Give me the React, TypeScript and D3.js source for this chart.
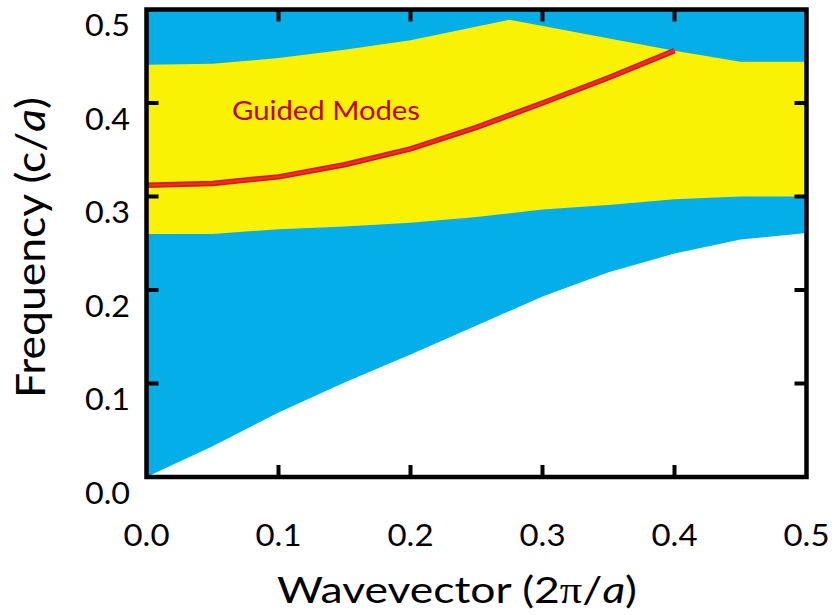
import React from "react";
import * as d3 from "d3";

// Wavevector samples (2π/a)
const kLight = [0, 0.05, 0.1, 0.15, 0.2, 0.25, 0.3, 0.35, 0.4, 0.45, 0.5];
// light line (lower edge of the blue continuum)
const lightLine = [0, 0.033, 0.069, 0.101, 0.131, 0.162, 0.193, 0.219, 0.239, 0.254, 0.261];
// lower edge of the guided-mode (yellow) band
const bandLower = [0.26, 0.26, 0.265, 0.268, 0.272, 0.278, 0.286, 0.291, 0.297, 0.3, 0.3];
// upper edge of the yellow band
const kUpper = [0, 0.05, 0.1, 0.15, 0.2, 0.275, 0.4, 0.45, 0.5];
const bandUpper = [0.441, 0.442, 0.448, 0.457, 0.467, 0.489, 0.456, 0.444, 0.444];
// guided mode (red)
const kMode = [0, 0.05, 0.1, 0.15, 0.2, 0.25, 0.3, 0.35, 0.4];
const modeFreq = [0.312, 0.314, 0.321, 0.334, 0.351, 0.374, 0.4, 0.427, 0.456];

const xTicks = [0, 0.1, 0.2, 0.3, 0.4, 0.5];
const yTicks = [0, 0.1, 0.2, 0.3, 0.4, 0.5];

const W = 838;
const H = 615;
const FONT = "Lato, 'Noto Sans', sans-serif";

export default function App() {
  const x = d3.scaleLinear().domain([0, 0.5]).range([146.5, 806.5]);
  const y = d3.scaleLinear().domain([0, 0.5]).range([477, 9.5]);

  const blueArea = d3
    .area<number>()
    .x((_, i) => x(kLight[i]))
    .y0((d) => y(d))
    .y1(() => y(0.5))(lightLine) as string;

  const bandPts: [number, number][] = [
    ...kUpper.map((k, i) => [k, bandUpper[i]] as [number, number]),
    ...kLight.map((k, i) => [k, bandLower[i]] as [number, number]).reverse(),
  ];
  const bandPath =
    (d3
      .line<[number, number]>()
      .x((d) => x(d[0]))
      .y((d) => y(d[1]))(bandPts) as string) + "Z";

  const modePath = d3
    .line<number>()
    .x((_, i) => x(kMode[i]))
    .y((d) => y(d))(modeFreq) as string;

  const [x0, x1] = x.range();
  const [yb, yt] = y.range();
  const tickLen = 12;
  const inner = [0.1, 0.2, 0.3, 0.4];

  return (
    <svg
      width={W}
      height={H}
      style={{ position: "absolute", left: 0, top: 0, background: "#fff" }}
    >
      <path d={blueArea} fill="#03aee9" />
      <path d={bandPath} fill="#faf205" />
      <path d={modePath} fill="none" stroke="#d01b1b" strokeWidth={5.5} strokeLinejoin="round" />
      <path d={modePath} fill="none" stroke="#f52a2a" strokeWidth={2.2} strokeLinejoin="round" />
      <text
        x={232}
        y={119.5}
        fill="#c00000"
        fontFamily={FONT}
        fontSize={27.5}
        textLength={188}
        lengthAdjust="spacingAndGlyphs"
      >
        Guided Modes
      </text>

      {/* ticks */}
      {inner.map((t) => (
        <g key={"xt" + t} stroke="#000" strokeWidth={4}>
          <line x1={x(t)} x2={x(t)} y1={yb} y2={yb - tickLen} />
          <line x1={x(t)} x2={x(t)} y1={yt} y2={yt + tickLen} />
        </g>
      ))}
      {inner.map((t) => (
        <g key={"yt" + t} stroke="#000" strokeWidth={4}>
          <line x1={x0} x2={x0 + tickLen} y1={y(t)} y2={y(t)} />
          <line x1={x1} x2={x1 - tickLen} y1={y(t)} y2={y(t)} />
        </g>
      ))}
      <rect
        x={x0}
        y={yt}
        width={x1 - x0}
        height={yb - yt}
        fill="none"
        stroke="#000"
        strokeWidth={4.5}
      />

      {/* tick labels */}
      {xTicks.map((t) => (
        <text
          key={"xl" + t}
          x={x(t)}
          y={546}
          textAnchor="middle"
          fontFamily={FONT}
          fontSize={31}
          textLength={46}
          lengthAdjust="spacingAndGlyphs"
          fill="#000"
        >
          {d3.format(".1f")(t)}
        </text>
      ))}
      {yTicks.map((t) => (
        <text
          key={"yl" + t}
          x={130}
          y={y(t) + 26.5}
          textAnchor="end"
          fontFamily={FONT}
          fontSize={31}
          textLength={45}
          lengthAdjust="spacingAndGlyphs"
          fill="#000"
        >
          {d3.format(".1f")(t)}
        </text>
      ))}

      {/* axis titles */}
      <text
        x={457}
        y={603}
        textAnchor="middle"
        fontFamily={FONT}
        fontSize={37.5}
        textLength={360}
        lengthAdjust="spacingAndGlyphs"
        fill="#000"
      >
        Wavevector (2
        <tspan fontFamily="'Liberation Serif', serif">π</tspan>/
        <tspan fontStyle="italic">a</tspan>)
      </text>
      <text
        transform="translate(45,247.5) rotate(-90)"
        textAnchor="middle"
        fontFamily={FONT}
        fontSize={41.5}
        textLength={301}
        lengthAdjust="spacingAndGlyphs"
        fill="#000"
      >
        Frequency (c/<tspan fontStyle="italic">a</tspan>)
      </text>
    </svg>
  );
}
